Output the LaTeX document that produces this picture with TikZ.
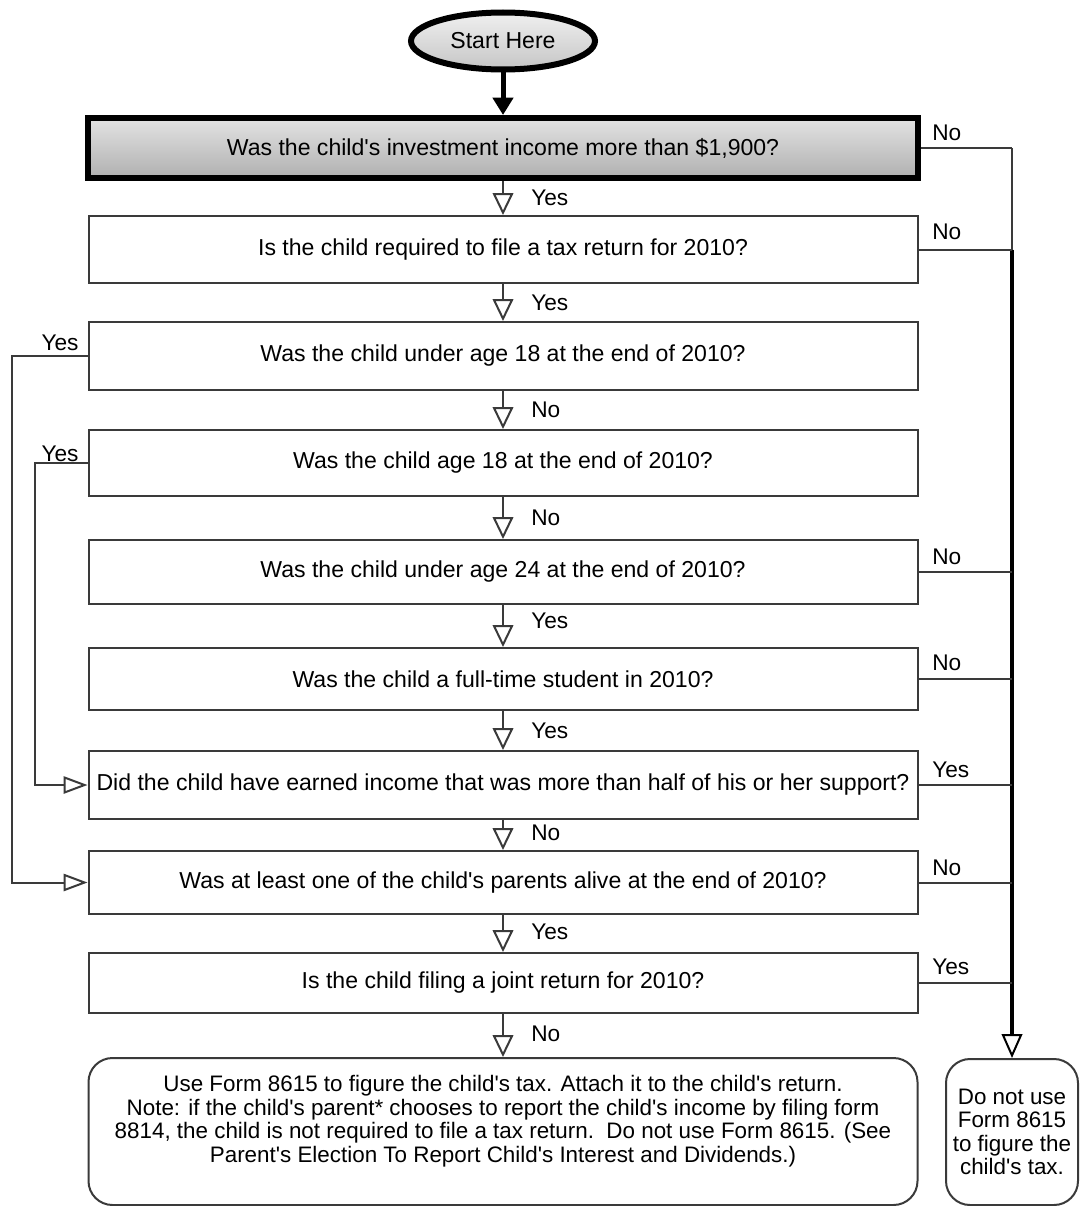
\documentclass[tikz,border=0pt]{standalone}
\usepackage{fontspec}
\setmainfont{Liberation Sans}[Ligatures=TeXOff]
\usetikzlibrary{arrows.meta,shapes.geometric,calc}
\definecolor{lin}{HTML}{3A3A3A}
\begin{document}
\begin{tikzpicture}[x=0.75pt,y=-0.75pt,
  txt/.style={font=\fontsize{17.3pt}{18pt}\selectfont},
  ftxt/.style={font=\fontsize{16.8pt}{17.6pt}\selectfont},
  qbox/.style={txt, draw=lin, line width=1.5pt, fill=white, rectangle, inner sep=0pt,
    minimum width=829*0.75pt, minimum height=#1*0.75pt, align=center},
  fbox/.style={ftxt, draw=lin, line width=1.5pt, rectangle, rounded corners=18pt, inner sep=0pt, align=center},
  conn/.style={draw=lin, line width=1.5pt},
  dnarrow/.style={conn, -{Triangle[open, length=16.5pt, width=15.5pt]}},
  ltarrow/.style={conn, -{Triangle[open, length=18pt, width=13pt]}},
  lbl/.style={font=\fontsize{17pt}{18pt}\selectfont, inner sep=0pt, anchor=west},
  lbll/.style={font=\fontsize{17pt}{18pt}\selectfont, inner sep=0pt}
]
\useasboundingbox (0,0) rectangle (1083,1206);

% start
\node[ellipse, draw=black, line width=4.5pt, minimum width=184*0.75pt, minimum height=57*0.75pt,
  top color=gray!12, bottom color=gray!45, txt, inner sep=0pt] (S) at (503,41) {Start Here};

% question boxes
\node[qbox=60, draw=black, line width=4.5pt, top color=gray!22, bottom color=gray!62, minimum width=830*0.75pt] (B1) at (503,148)
  {Was the child's investment income more than \$1,900?};
\node[qbox=67] (B2) at (503,249.5) {Is the child required to file a tax return for 2010?};
\node[qbox=68] (B3) at (503,356) {Was the child under age 18 at the end of 2010?};
\node[qbox=66] (B4) at (503,463) {Was the child age 18 at the end of 2010?};
\node[qbox=64] (B5) at (503,572) {Was the child under age 24 at the end of 2010?};
\node[qbox=62] (B6) at (503,679) {Was the child a full-time student in 2010?};
\node[qbox=68] (B7) at (503,785) {Did the child have earned income that was more than half of his or her support?};
\node[qbox=63] (B8) at (503,882.5) {Was at least one of the child's parents alive at the end of 2010?};
\node[qbox=60] (B9) at (503,983) {Is the child filing a joint return for 2010?};

% final boxes
\node[fbox, minimum width=829*0.75pt, minimum height=147*0.75pt, text depth=19pt] (F) at (503,1131.5)
  {Use Form 8615 to figure the child's tax. Attach it to the child's return.\\
   Note: if the child's parent* chooses to report the child's income by filing form\\
   8814, the child is not required to file a tax return.\ \ Do not use Form 8615. (See\\
   Parent's Election To Report Child's Interest and Dividends.)};
\node[fbox, minimum width=132*0.75pt, minimum height=146*0.75pt] (R) at (1012,1132)
  {Do not use\\Form 8615\\to figure the\\child's tax.};

% start arrow
\draw[line width=3.75pt, -{Triangle[length=13pt, width=15pt]}] (S.south) -- (B1.north);

% down arrows
\draw[dnarrow] (B1.south) -- (B2.north);
\draw[dnarrow] (B2.south) -- (B3.north);
\draw[dnarrow] (B3.south) -- (B4.north);
\draw[dnarrow] (B4.south) -- (B5.north);
\draw[dnarrow] (B5.south) -- (B6.north);
\draw[dnarrow] (B6.south) -- (B7.north);
\draw[dnarrow] (B7.south) -- (B8.north);
\draw[dnarrow] (B8.south) -- (B9.north);
\draw[dnarrow] (B9.south) -- (F.north);

\node[lbl] (l1) at (531,198) {Yes};
\node[lbl] (l2) at (531,303) {Yes};
\node[lbl] (l3) at (531,410) {No};
\node[lbl] (l4) at (531,518) {No};
\node[lbl] (l5) at (531,621) {Yes};
\node[lbl] (l6) at (531,731) {Yes};
\node[lbl] (l7) at (531,833) {No};
\node[lbl] (l8) at (531,932) {Yes};
\node[lbl] (l9) at (531,1034) {No};

% right trunk
\draw[conn] (B1.east) -- (B1.east -| R.north);
\draw[conn] (B1.east -| R.north) -- (B2.east -| R.north);
\draw[draw=black, line width=2.4pt, -{Triangle[open, length=18pt, width=15.5pt, line width=1.5pt]}] (B2.east -| R.north) -- (R.north);
\draw[conn] (B2.east) -- (B2.east -| R.north);
\draw[conn] (B5.east) -- (B5.east -| R.north);
\draw[conn] (B6.east) -- (B6.east -| R.north);
\draw[conn] (B7.east) -- (B7.east -| R.north);
\draw[conn] (B8.east) -- (B8.east -| R.north);
\draw[conn] (B9.east) -- (B9.east -| R.north);

\node[lbl] (r1) at (932,133) {No};
\node[lbl] (r2) at (932,232) {No};
\node[lbl] (r5) at (932,557) {No};
\node[lbl] (r6) at (932,663) {No};
\node[lbl] (r7) at (932,770) {Yes};
\node[lbl] (r8) at (932,868) {No};
\node[lbl] (r9) at (932,967) {Yes};

% left connectors
\coordinate (L1) at (12,0);
\coordinate (L2) at (35,0);
\draw[ltarrow] (B3.west) -- (B3.west -| L1) |- (B8.west);
\draw[ltarrow] (B4.west) -- (B4.west -| L2) |- (B7.west);
\node[lbll] (y3) at (60,343) {Yes};
\node[lbll] (y4) at (60,454) {Yes};
\end{tikzpicture}
\end{document}
